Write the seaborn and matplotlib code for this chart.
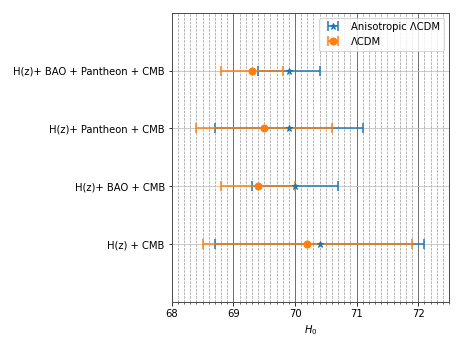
import matplotlib
matplotlib.use("Agg")
import matplotlib.pyplot as plt
from matplotlib.ticker import MultipleLocator
import seaborn as sns

datasets = ["H(z) + CMB", "H(z)+ BAO + CMB", "H(z)+ Pantheon + CMB",
            "H(z)+ BAO + Pantheon + CMB"]
aniso_h0 = [70.4, 70.0, 69.9, 69.9]
aniso_err = [1.7, 0.7, 1.2, 0.5]
lcdm_h0 = [70.2, 69.4, 69.5, 69.3]
lcdm_err = [1.7, 0.6, 1.1, 0.5]

sns.set_style("ticks")
plt.rcParams["font.family"] = ["DejaVu Sans"]
plt.rcParams["font.size"] = 10
plt.rcParams["text.color"] = "black"
plt.rcParams["xtick.color"] = "black"
plt.rcParams["ytick.color"] = "black"
plt.rcParams["axes.labelcolor"] = "black"
colors = sns.color_palette("tab10")

fig, ax = plt.subplots(figsize=(6.43, 4.82), dpi=72)
pos = list(range(len(datasets)))

ax.errorbar(aniso_h0, pos, xerr=aniso_err, fmt="*", color=colors[0],
            capsize=5, markersize=7, elinewidth=1.5, capthick=1.5,
            label="Anisotropic ΛCDM")
ax.errorbar(lcdm_h0, pos, xerr=lcdm_err, fmt="o", color=colors[1],
            capsize=5, markersize=7, elinewidth=1.5, capthick=1.5,
            label="ΛCDM")

ax.set_yticks(pos)
ax.set_yticklabels(datasets)
ax.set_ylim(-1, 4)
ax.set_xlim(68, 72.5)
ax.xaxis.set_major_locator(MultipleLocator(1))
ax.xaxis.set_minor_locator(MultipleLocator(0.1))
ax.grid(axis="x", which="major", color="0.3", lw=0.8)
ax.grid(axis="x", which="minor", color="0.6", ls="--", lw=0.7)
ax.grid(axis="y", which="major", color="0.75", lw=0.8)
ax.set_axisbelow(True)
for sp in ax.spines.values():
    sp.set_color("0.3")
    sp.set_linewidth(1.0)
ax.set_xlabel("$H_0$")
ax.legend(loc="upper right")

plt.subplots_adjust(left=0.371, right=0.97, top=0.963, bottom=0.13)
plt.savefig("out.png", dpi=72)
